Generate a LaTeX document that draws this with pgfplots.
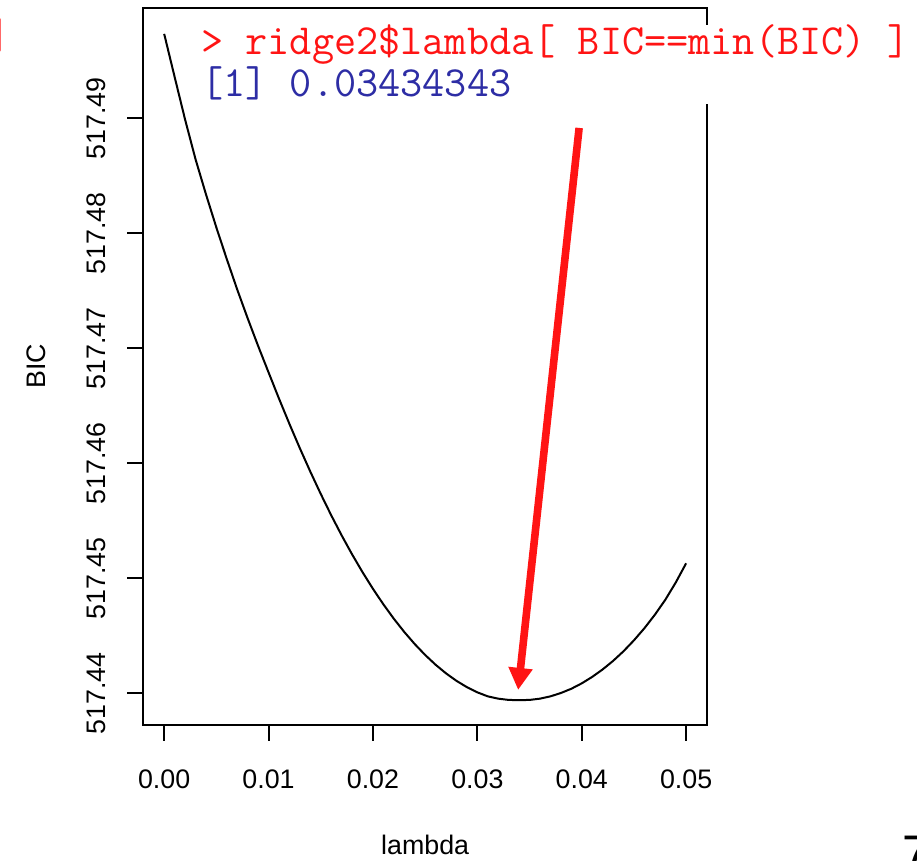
\documentclass[border=0pt]{standalone}
\usepackage{pgfplots}
\pgfplotsset{compat=1.18}
\usepackage{fontspec}
\setmainfont{Liberation Sans}
\usetikzlibrary{arrows.meta}
\definecolor{rred}{RGB}{255,20,20}
\definecolor{rblue}{RGB}{45,45,165}
% BIC values are stored as (BIC - 517.44) x 1000 to keep TeX arithmetic precise
\begin{document}
\begin{tikzpicture}
\path[use as bounding box, fill=white] (0,0) rectangle (458.5pt,430.5pt);
\begin{axis}[
  at={(71.65pt,68pt)}, anchor=south west,
  scale only axis, width=281.85pt, height=358.5pt,
  xmin=-0.002, xmax=0.052, ymin=-2.76, ymax=59.59,
  scaled x ticks=false, scaled y ticks=false,
  xtick={0,0.01,0.02,0.03,0.04,0.05},
  xticklabels={0.00,0.01,0.02,0.03,0.04,0.05},
  ytick={0,10,20,30,40,50},
  yticklabels={517.44,517.45,517.46,517.47,517.48,517.49},
  xtick pos=bottom, ytick pos=left,
  tick align=outside, major tick length=8pt,
  axis line style={line width=1pt},
  tick style={line width=1pt, black},
  every tick label/.append style={font=\fontsize{13.4}{15}\selectfont, inner sep=0pt},
  xticklabel style={anchor=base},
  xticklabel shift=24pt,
  yticklabel style={rotate=90, anchor=base},
  yticklabel shift=11pt,
  xlabel={lambda}, ylabel={BIC},
  label style={font=\fontsize{13.4}{15}\selectfont, inner sep=0pt},
  xlabel style={at={([yshift=-65pt]axis description cs:0.5,0)}, anchor=base},
  ylabel style={at={([xshift=-49pt]axis description cs:0,0.5)}, anchor=base, rotate=0},
]
\addplot[black, line width=1pt] table {
x y
0.000 57.34
0.001 53.60
0.002 49.90
0.003 46.45
0.004 43.40
0.005 40.50
0.006 37.75
0.007 35.10
0.008 32.60
0.009 30.20
0.010 27.90
0.011 25.62
0.012 23.42
0.013 21.30
0.014 19.27
0.015 17.33
0.016 15.48
0.017 13.73
0.018 12.08
0.019 10.53
0.020 9.08
0.021 7.73
0.022 6.48
0.023 5.33
0.024 4.28
0.025 3.33
0.026 2.48
0.027 1.73
0.028 1.08
0.029 0.53
0.030 0.08
0.031 -0.27
0.032 -0.47
0.033 -0.58
0.034 -0.60
0.035 -0.58
0.036 -0.47
0.037 -0.27
0.038 0.02
0.039 0.39
0.040 0.86
0.041 1.42
0.042 2.07
0.043 2.81
0.044 3.65
0.045 4.60
0.046 5.65
0.047 6.82
0.048 8.12
0.049 9.62
0.050 11.30
};
\draw[rred, line width=3.8pt, -{Triangle[length=11pt,width=11.5pt]}]
  (axis cs:0.03975,49.16) -- (axis cs:0.03391,0.29);
\end{axis}
% console screenshot overlay
\fill[white] (95pt,378.5pt) rectangle (460pt,418pt);
\node[anchor=base west, inner sep=0pt, text=rred, font=\ttfamily\fontsize{21.5}{23}\selectfont]
  at (100.5pt,403pt) {> ridge2\$lambda[ BIC==min(BIC) ]};
\node[anchor=base west, inner sep=0pt, text=rblue, font=\ttfamily\fontsize{21.5}{23}\selectfont]
  at (100.5pt,382pt) {[1] 0.03434343};
\node[anchor=base west, inner sep=0pt, text=rred, font=\ttfamily\fontsize{21.5}{23}\selectfont]
  at (-5.8pt,406pt) {]};
\node[anchor=base west, inner sep=0pt, font=\fontsize{25}{30}\selectfont]
  at (451pt,-5pt) {7};
\end{tikzpicture}
\end{document}
